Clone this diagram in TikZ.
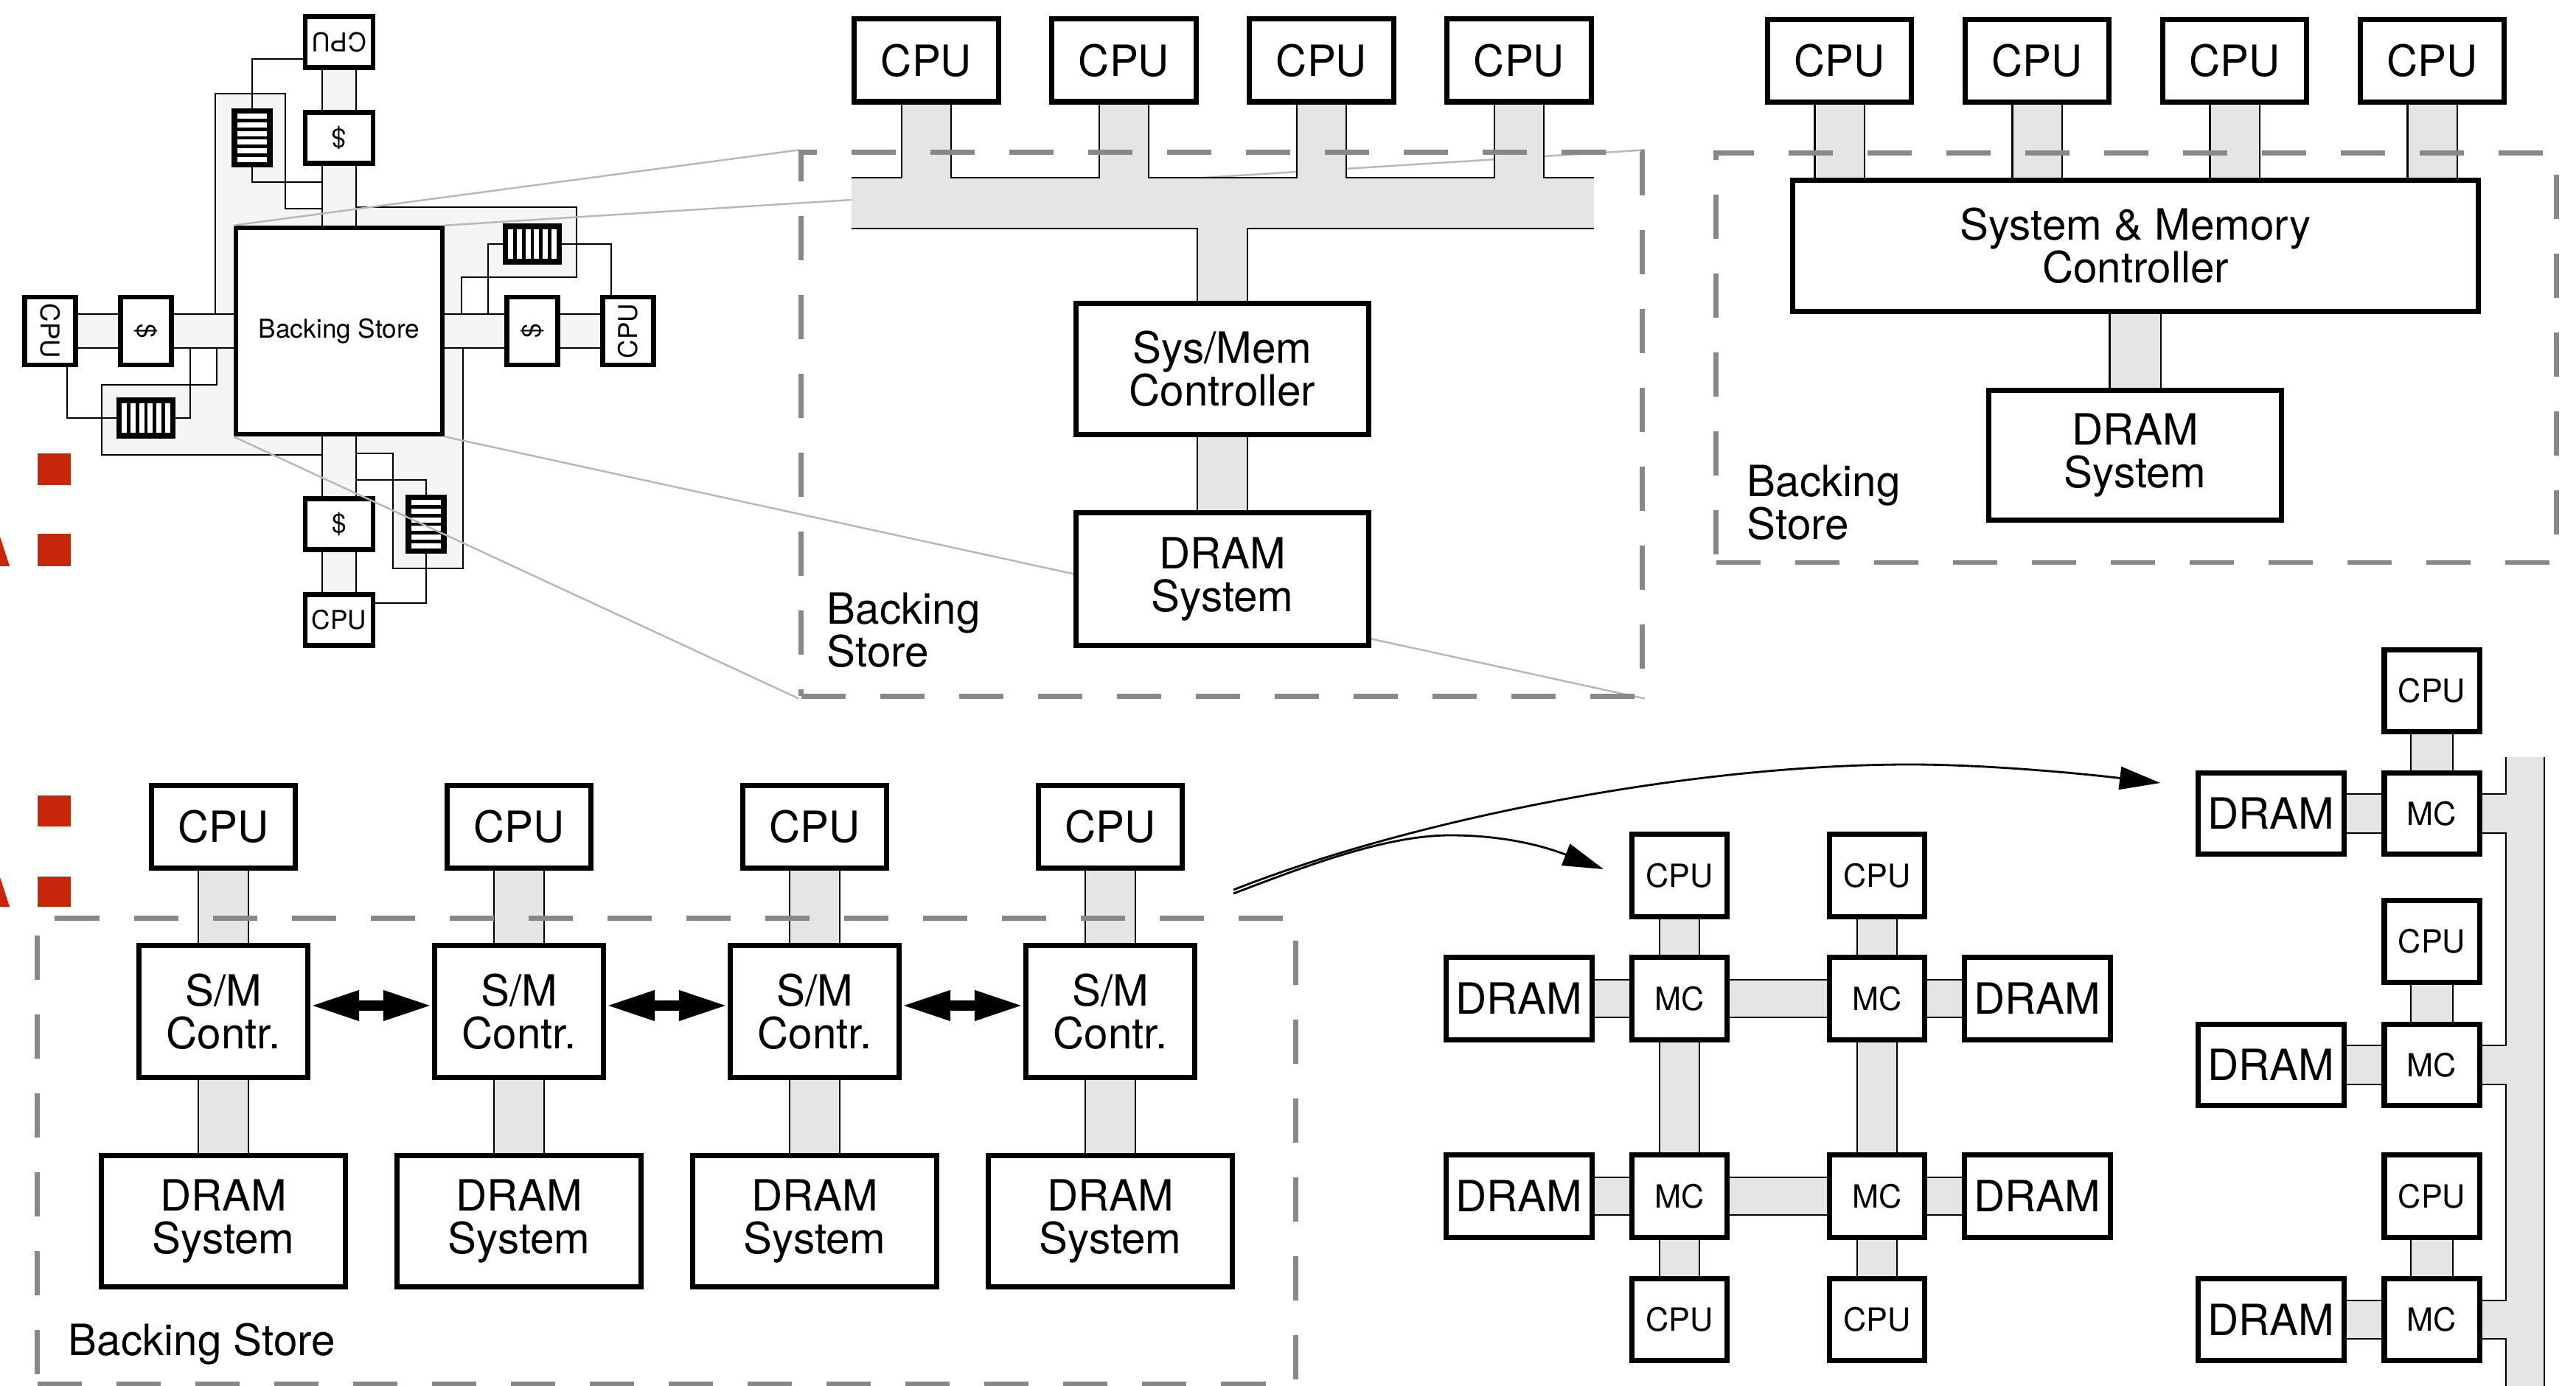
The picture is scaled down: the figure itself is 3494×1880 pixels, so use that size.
\documentclass[tikz,border=0pt]{standalone}
\usepackage{fontspec}
\setmainfont{TeX Gyre Heros}
\usetikzlibrary{arrows.meta, calc}

\pgfdeclarelayer{bg}
\pgfsetlayers{bg,main}

\definecolor{busgray}{RGB}{229,229,229}
\definecolor{pale}{RGB}{245,245,245}
\definecolor{framegray}{RGB}{136,136,136}
\definecolor{zoomgray}{RGB}{184,184,184}
\definecolor{slidered}{RGB}{200,38,10}

\newcommand{\fsbig}{\fontsize{16.6}{16.6}\selectfont}
\newcommand{\fsmid}{\fontsize{12.3}{14}\selectfont}
\newcommand{\fssmall}{\fontsize{10}{12}\selectfont}

\tikzset{
  box/.style={draw, line width=2pt, fill=white, inner sep=0pt, align=center, font=\fsbig},
  cpubox/.style={minimum width=1.95cm, minimum height=1.12cm},
  gridcpu/.style={minimum width=1.29cm, minimum height=1.11cm, font=\fsmid},
  griddram/.style={minimum width=1.98cm, minimum height=1.11cm},
  sbox/.style={draw, line width=1.8pt, fill=white, inner sep=0pt, align=center, font=\fssmall},
  fifo/.style={fill=black, minimum width=0.55cm, minimum height=0.79cm, inner sep=0pt},
  busedge/.style={draw=black, line width=#1+1.2pt},
  buscore/.style={draw=busgray, line width=#1},
  bsframe/.style={draw=framegray, line width=1.9pt, dash pattern=on 0.6cm off 0.47cm, inner sep=0pt},
  note/.style={font=\fsbig, align=left, inner sep=0pt},
  zoomline/.style={draw=zoomgray, line width=0.7pt},
  thinline/.style={line width=0.75pt},
  fatarrow/.style={line width=0.13cm, {Triangle[length=0.66cm,width=0.38cm]}-{Triangle[length=0.66cm,width=0.38cm]}},
  curvearrow/.style={line width=0.8pt, -{Triangle[length=0.55cm,width=0.31cm]}},
}

\begin{document}
\begin{tikzpicture}[x=0.01cm, y=-0.01cm]
\useasboundingbox (0,0) rectangle (3494,1880);

% slide marks on the left edge
\fill[slidered] (51,615) rectangle (96,658);
\fill[slidered] (51,724) rectangle (96,768);
\fill[slidered] (0,728) -- (13,768) -- (0,768) -- cycle;
\fill[slidered] (51,1079) rectangle (96,1121);
\fill[slidered] (51,1189) rectangle (96,1230);
\fill[slidered] (0,1190) -- (13,1230) -- (0,1230) -- cycle;

% frames of the three backing stores
\node[bsframe, minimum width=11.40cm, minimum height=7.37cm] (mframe) at (1657,575.5) {};
\node[bsframe, minimum width=11.39cm, minimum height=5.55cm] (rframe) at (2897.5,485.5) {};
\node[bsframe, minimum width=17.06cm, minimum height=6.31cm] (bframe) at (904,1561.5) {};

% small overview: four arms around the backing store
\begin{pgfonlayer}{bg}
  \foreach \a in {0,-90,180,90} {
    \begin{scope}[shift={(460,449)}, rotate=\a]
      \fill[pale] (23,143) -- (23,166) -- (73,166) -- (73,322) -- (168,322) -- (168,23) -- (143,23) -- (143,143) -- cycle;
      \fill[pale] (-23,143) rectangle (23,355);
    \end{scope}
  }
  \foreach \a/\q in {0/s,-90/w,180/n,90/e} {
    \begin{scope}[shift={(460,449)}, rotate=\a, transform shape]
      \draw[thinline] (23,166) -- (73,166) -- (73,322) -- (168,322) -- (168,23);
      \draw[thinline] (-23,143) -- (-23,355) (23,143) -- (23,355);
      \draw[thinline] (23,202) -- (118,202) -- (118,223);
      \draw[thinline] (118,301) -- (118,369) -- (49,369);
      \node[sbox, minimum width=0.92cm, minimum height=0.69cm] (sd\q) at (0,262) {\$};
      \node[sbox, minimum width=0.92cm, minimum height=0.69cm] (sc\q) at (0,392) {CPU};
      \node[fifo] (sf\q) at (118,262) {};
      \foreach \k in {-2.5,-1.5,...,2.5}
        \fill[white] (98,{262+11.7*\k-3.5}) rectangle (138,{262+11.7*\k+3.5});
    \end{scope}
  }
  \node[sbox, minimum size=2.8cm] (bs) at (460,449) {Backing Store};

  % zoom lines
  \draw[zoomline] (bs.north west) -- (mframe.north west) (bs.north east) -- (mframe.north east)
    (bs.south west) -- (mframe.south west) (bs.south east) -- (mframe.south east);
\end{pgfonlayer}

% top middle: shared bus
\foreach \i in {1,...,4}
  \node[box, cpubox] (mcpu\i) at ({1256.5+268*(\i-1)},82) {CPU};
\node[box, minimum width=3.97cm, minimum height=1.78cm] (msmc) at (1658,500.5) {Sys/Mem\\Controller};
\node[box, minimum width=3.97cm, minimum height=1.80cm] (mdram) at (1658,785.5) {DRAM\\System};
\node[note, anchor=north west] (mnote) at (1121,803) {Backing\\Store};
\coordinate (mbusl) at (1155,275.5);
\coordinate (mbusr) at (2162,275.5);
\begin{pgfonlayer}{bg}
  \draw[busedge=0.67cm] (mbusl) -- (mbusr);
  \foreach \i in {1,...,4}
    \draw[busedge=0.65cm] (mcpu\i.center) -- (mcpu\i.center |- mbusl);
  \draw[busedge=0.66cm] (msmc.center |- mbusl) -- (mdram.center);
  \draw[buscore=0.67cm] (mbusl) -- (mbusr);
  \foreach \i in {1,...,4}
    \draw[buscore=0.65cm] (mcpu\i.center) -- (mcpu\i.center |- mbusl);
  \draw[buscore=0.66cm] (msmc.center |- mbusl) -- (mdram.center);
\end{pgfonlayer}

% top right: one system and memory controller
\foreach \i in {1,...,4}
  \node[box, cpubox] (rcpu\i) at ({2495+268*(\i-1)},82.5) {CPU};
\node[box, minimum width=9.30cm, minimum height=1.78cm] (rsmc) at (2896.5,333.5) {System \& Memory\\Controller};
\node[box, minimum width=3.97cm, minimum height=1.76cm] (rdram) at (2896,617.5) {DRAM\\System};
\node[note, anchor=north west] (rnote) at (2369,630) {Backing\\Store};
\begin{pgfonlayer}{bg}
  \foreach \i in {1,...,4}
    \draw[busedge=0.65cm] (rcpu\i.center) -- (rcpu\i.center |- rsmc.center);
  \draw[busedge=0.67cm] (rdram.center |- rsmc.center) -- (rdram.center);
  \foreach \i in {1,...,4}
    \draw[buscore=0.65cm] (rcpu\i.center) -- (rcpu\i.center |- rsmc.center);
  \draw[buscore=0.67cm] (rdram.center |- rsmc.center) -- (rdram.center);
\end{pgfonlayer}

% bottom left: distributed controllers
\foreach \i in {1,...,4} {
  \node[box, cpubox] (bcpu\i) at ({303+401*(\i-1)},1121.5) {CPU};
  \node[box, minimum width=2.29cm, minimum height=1.79cm] (bsm\i) at ({303+401*(\i-1)},1372) {S/M\\Contr.};
  \node[box, minimum width=3.30cm, minimum height=1.78cm] (bdram\i) at ({303+401*(\i-1)},1656.5) {DRAM\\System};
}
\node[note, anchor=base west] (bnote) at (92,1838) {Backing Store};
\foreach \i/\j in {1/2,2/3,3/4}
  \draw[fatarrow] ([yshift=0.08cm]bsm\i.east) -- ([yshift=0.08cm]bsm\j.west);
\begin{pgfonlayer}{bg}
  \foreach \i in {1,...,4}
    \draw[busedge=0.66cm] (bcpu\i.center) -- (bdram\i.center);
  \foreach \i in {1,...,4}
    \draw[buscore=0.66cm] (bcpu\i.center) -- (bdram\i.center);
\end{pgfonlayer}

% grid of memory controllers
\node[box, gridcpu] (gcpu1) at (2278,1187.5) {CPU};
\node[box, gridcpu] (gcpu2) at (2546,1187.5) {CPU};
\node[box, gridcpu] (gcpu3) at (2278,1790) {CPU};
\node[box, gridcpu] (gcpu4) at (2546,1790) {CPU};
\node[box, gridcpu] (gmc11) at (2278,1354.5) {MC};
\node[box, gridcpu] (gmc12) at (2546,1354.5) {MC};
\node[box, gridcpu] (gmc21) at (2278,1622.5) {MC};
\node[box, gridcpu] (gmc22) at (2546,1622.5) {MC};
\node[box, griddram] (gdram11) at (2060.5,1354.5) {DRAM};
\node[box, griddram] (gdram12) at (2763.5,1354.5) {DRAM};
\node[box, griddram] (gdram21) at (2060.5,1622.5) {DRAM};
\node[box, griddram] (gdram22) at (2763.5,1622.5) {DRAM};
\begin{pgfonlayer}{bg}
  \draw[busedge=0.49cm] (gdram11.center) -- (gdram12.center) (gdram21.center) -- (gdram22.center);
  \draw[busedge=0.52cm] (gcpu1.center) -- (gcpu3.center) (gcpu2.center) -- (gcpu4.center);
  \draw[buscore=0.49cm] (gdram11.center) -- (gdram12.center) (gdram21.center) -- (gdram22.center);
  \draw[buscore=0.52cm] (gcpu1.center) -- (gcpu3.center) (gcpu2.center) -- (gcpu4.center);
\end{pgfonlayer}

% column of controllers on a shared bus
\foreach \k/\yc/\ym in {1/937/1103.5, 2/1277/1444.5, 3/1622.5/1790} {
  \node[box, gridcpu] (ccpu\k) at (3298.5,\yc) {CPU};
  \node[box, gridcpu, minimum height=1.10cm] (cmc\k) at (3298.5,\ym) {MC};
  \node[box, griddram, minimum height=1.10cm] (cdram\k) at (3080.5,\ym) {DRAM};
}
\coordinate (colbustop) at (3425,1027);
\coordinate (colbusbot) at (3425,1895);
\begin{pgfonlayer}{bg}
  \draw[busedge=0.50cm] (colbustop) -- (colbusbot);
  \foreach \k in {1,2,3} {
    \draw[busedge=0.50cm] (cdram\k.center) -- (cmc\k.center -| colbustop);
    \draw[busedge=0.55cm] (ccpu\k.center) -- (cmc\k.center);
  }
  \draw[buscore=0.50cm] (colbustop) -- (colbusbot);
  \foreach \k in {1,2,3} {
    \draw[buscore=0.50cm] (cdram\k.center) -- (cmc\k.center -| colbustop);
    \draw[buscore=0.55cm] (ccpu\k.center) -- (cmc\k.center);
  }
\end{pgfonlayer}

% curved arrows to the two alternatives
\coordinate (src1) at (1673,1212);
\coordinate (src2) at (1673,1207);
\coordinate (gridtip) at (2175,1179);
\coordinate (coltip) at (2930,1062);
\draw[curvearrow] (src1) .. controls (1773,1174) and (1880,1133) .. (1967,1133)
  .. controls (2050,1133) and (2105,1152) .. (gridtip);
\draw[curvearrow] (src2) .. controls (1924,1108) and (2300,1037) .. (2590,1037)
  .. controls (2700,1037) and (2830,1050) .. (coltip);
\end{tikzpicture}
\end{document}
